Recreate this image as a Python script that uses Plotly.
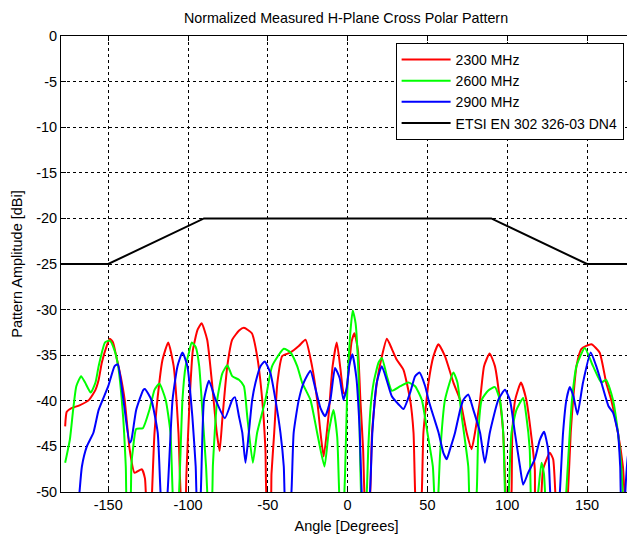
import plotly.graph_objects as go

# ---------------- data ----------------
red_angle = [-177, -176, -173, -168, -162, -158, -156, -154, -151, -149, -147, -145, -142, -139.7,
             -136.6, -133.5, -129, -127, -126, -124, -123, -121, -118, -116, -112.4, -109, -106,
             -104, -102, -101, -99, -97, -94, -91.5, -88, -85, -82, -80.2, -78.5, -75.4, -72.3,
             -68, -65, -60, -56.7, -53.5, -51.5, -50.2, -48.5, -47.7, -46, -44, -41, -35.8, -30.6,
             -26.4, -22.3, -19.1, -17, -15, -12, -9.4, -6.8, -4.5, -2.6, -1.2, 1, 2.5, 4.3, 6.5, 8,
             9.7, 11.1, 13, 14.2, 15.3, 18.3, 21.5, 24.6, 27.7, 30.8, 35, 39.2, 41.3, 42.9, 45,
             46.5, 47.5, 50.7, 53.8, 56.9, 61, 66.3, 70.5, 74.6, 77.7, 79.8, 83, 85.5, 89, 92.3,
             95.4, 97.5, 99.6, 101, 102.7, 103.2, 105, 108.6, 112, 115.2, 117.3, 117.7, 120, 121.5,
             122.5, 126.7, 128.8, 130.8, 134, 137, 138.1, 139.8, 141.3, 143.4, 146.5, 152.7, 157.9,
             162, 165.2, 169.4, 172.5, 174.6, 176, 177.5]
red_val = [-42.8, -41.2, -40.8, -40.5, -39.9, -38.8, -37.7, -35.8, -34.0, -33.2, -33.6, -35.1, -37.5, -39.9,
           -45.3, -47.9, -47.5, -48.5, -52, -55, -52, -43.5, -38, -35.5, -33.6, -36.2, -43.5,
           -52, -53, -48, -39.9, -34.5, -32.2, -31.5, -33.3, -38, -43.5, -45.5, -42, -36.2, -33.3,
           -32.3, -32, -32.6, -35.1, -39.9, -45.3, -52, -52, -48, -43.5, -38, -35.1, -34.7, -34,
           -33.3, -36.2, -39.9, -43.5, -46.1, -41.7, -36.2, -33.6, -36.5, -39.1, -39.3, -36, -33.5, -32.6, -34.5, -39.9,
           -45.3, -52, -53, -50, -43.5, -38, -35.1, -33.2, -34.3, -35.5, -36.6, -39.9, -43.5, -52, -53,
           -50, -43.5, -38, -35.1, -33.8, -35.1, -38, -39.9, -43.5, -45.3, -43.5, -39.9, -36.2, -34.8, -36.2,
           -39.9, -43.5, -52, -53, -50, -43.5, -39.9, -38, -39.9, -44, -47.5, -52, -53, -50,
           -47.5, -45.7, -46.4, -52, -55, -52, -50, -43.5, -39.9, -36.2, -34.3, -33.8, -34.7,
           -38, -39.9, -43.5, -47.2, -52, -52, -50]

green_angle = [-177, -174, -172, -170, -167, -164.5, -161, -158, -156, -152, -149, -146, -143.8, -140.7,
               -139, -138, -136.5, -135.5, -134.5, -132.5, -128.3, -124.2, -121, -118, -114, -111,
               -109, -107, -105.6, -103.5, -101.5, -99.4, -97.7, -95.2, -93, -90.8, -88.7, -86.9,
               -85.5, -84.4, -81.7, -78.5, -75.4, -72.3, -68.1, -65, -62.9, -59.4, -56.7, -51.5,
               -47.3, -40, -35.8, -31.6, -28.5, -23.3, -19.1, -14.5, -11.9, -8.9, -6.5, -4.7, -3,
               -1.6, -0.4, 1.5, 3.2, 5, 6.8, 8.9, 10.5, 12, 13, 14.5, 16.3, 19.4, 21.5, 24.6, 27.7,
               33, 38.1, 42.3, 46.5, 50, 53.4, 54.8, 56, 56.9, 57.9, 61, 66.3, 68.8, 71.5, 75.6,
               76.7, 79, 80.9, 81.9, 84, 88, 92.3, 95.4, 97.5, 99, 100, 101, 102.7, 105.8, 110, 112,
               114.1, 115.2, 117, 119.4, 121.5, 123, 124.6, 130, 136, 137, 139.2, 140.6, 143.4,
               148.6, 153.8, 159, 162, 166.3, 169.4, 171.5, 173.6, 176]
green_val = [-46.8, -44.2, -41, -38.4, -37.3, -38, -39.1, -38, -36.2, -33.6, -33.4, -34.5, -36.2, -41.7,
             -47.2, -52, -52, -47, -45.3, -43.1, -43, -41, -38.8, -38.1, -39.9, -43.5,
             -52, -53, -50, -39.9, -36.2, -34.7, -33.6, -34.1, -36.2, -41.7, -47.2, -52,
             -52, -47, -39.9, -37, -36.1, -37.3, -37.7, -38.4, -41.7, -46.8, -43.5, -39.9,
             -36.2, -34.3, -34.7, -36.2, -38, -39.9, -43.5, -47.2, -43.5, -41, -44, -52, -53,
             -48, -39.9, -33, -30.1, -31.5, -37, -52, -53, -50, -45, -40.5, -38, -35.8, -35.3, -37.3, -38.9,
             -38.4, -38, -38.4, -39.9, -43.5, -47.2, -52, -53, -50, -46, -39.9, -36.9, -38, -41.7, -47.2,
             -52, -53, -50, -43.5, -39.9, -38.9, -38.5, -39.9, -43.5, -52, -53, -50, -43.5, -41, -39.7, -41.7,
             -45.3, -52, -53, -50, -46.8, -48, -52, -55, -52, -50, -43.5, -39.9, -36.2,
             -34.2, -36.2, -38, -37.7, -39.9, -43.5, -47.2, -52, -52]

blue_angle = [-169, -168, -166.5, -163.4, -159.3, -156, -150, -146, -144, -140.5, -136.6, -135.5, -132.5,
              -128, -127, -123, -119, -116.5, -114.5, -112.8, -109.7, -106.6, -103.5, -100.4, -97.3,
              -95.2, -94, -93, -92, -90, -86.9, -82.7, -76.9, -72.3, -70.6, -68.1, -66, -64, -61.9,
              -59.8, -57.7, -54.6, -51.9, -48.3, -45.2, -42.1, -40, -39, -37, -35.2, -33.8, -30.6,
              -27.5, -23.3, -20.4, -17, -14.1, -10.8, -7.9, -5, -2.6, -0.5, 1.2, 3, 5.5, 7.5, 9.5,
              11.5, 14, 15.5, 18.3, 21.4, 24.6, 27.7, 32, 35, 39.2, 42.3, 45, 48.6, 50.7, 53.8, 57,
              60, 62.1, 64.2, 67.3, 70.5, 72.5, 75.6, 78.8, 83, 86, 89.1, 94.4, 98.6, 101.7, 104.8,
              108, 110, 113.1, 117.3, 120.4, 123.1, 125.6, 127.7, 130, 132, 133, 135, 137.1, 139.2,
              141.5, 144, 147.5, 152.3, 155.8, 159, 163.5, 166.3, 169.4, 170.8, 171.9, 173.5, 174,
              176, 177.3]
blue_val = [-52, -50, -47.2, -45, -43.5, -41, -38.4, -36.2, -36, -39.9, -44.6, -44.3, -41,
            -38.8, -38.7, -39.9, -43.5, -52, -53, -50, -39.9, -36.2, -34.7, -36.2, -41.7,
            -47.2, -52, -52, -50, -39.9, -37.8, -39.9, -41.9, -39.9, -39.6, -41.7, -43.5, -46.8, -43.5,
            -39.9, -38, -36.2, -35.7, -37, -39.9, -43.5, -47.2, -52, -53, -50, -43.5, -39.9,
            -38, -36.7, -38.5, -40.8, -41.7, -39.9, -36.4, -37.5, -39.9, -38.5, -36, -34.9, -37.5, -43, -52,
            -53, -50, -43.5, -38, -36.2, -37.8, -39.5, -40.4, -40.9, -39.1, -37.3, -36.9, -38.4, -39.9, -41.7, -43.5,
            -45.7, -46.4, -45.3, -43.5, -41, -39.9, -39.3, -41, -43.5, -46.8, -43.5, -39.9, -38.8, -39.9, -43.5,
            -47.2, -49.2, -47.9, -46.4, -44.3, -43.4, -45.3, -52, -53, -52, -50, -43.5, -39.9, -38.5,
            -39.5, -41.5, -38, -34.7, -36.2, -38, -40.6, -41.3, -43.5, -47.2, -52, -52, -50,
            -45.7, -45.6]

mask_angle = [-180, -150, -90, 90, 150, 180]
mask_val = [-25, -25, -20, -20, -25, -25]

x_ticks = [-150, -100, -50, 0, 50, 100, 150]
x_tick_text = ["-150", "-100", "-50", "0", "50", "100", "150"]
y_ticks = [-50, -45, -40, -35, -30, -25, -20, -15, -10, -5, 0]
y_tick_text = ["-50", "-45", "-40", "-35", "-30", "-25", "-20", "-15", "-10", "-5", "0"]

# ---------------- figure ----------------
fig = go.Figure()
series = [
    ("2300 MHz", red_angle, red_val, "#ff0000", True),
    ("2600 MHz", green_angle, green_val, "#00ff00", True),
    ("2900 MHz", blue_angle, blue_val, "#0000ff", True),
    ("ETSI EN 302 326-03 DN4", mask_angle, mask_val, "#000000", False),
]
for name, xs, ys, col, smooth in series:
    line = dict(color=col, width=2)
    if smooth:
        line.update(shape="spline", smoothing=0.5)
    fig.add_trace(go.Scatter(x=xs, y=ys, mode="lines", name=name, line=line))

font = "Liberation Sans, Arial, sans-serif"
# the page body has an 8px default margin, so the figure is offset by 8px
fig.update_layout(
    width=635, height=537,
    paper_bgcolor="white", plot_bgcolor="white",
    margin=dict(l=53, r=11, t=28, b=53, autoexpand=False),
    font=dict(family=font, size=14.5, color="black"),
    title=dict(text="Normalized Measured H-Plane Cross Polar Pattern",
               x=(346 - 8) / 635, xanchor="center", y=1 - 10 / 537, yanchor="middle",
               yref="container", font=dict(size=14.3, color="black")),
    showlegend=True,
    legend=dict(x=0.586, xanchor="left", y=0.985, yanchor="top",
                bgcolor="white", bordercolor="black", borderwidth=1,
                font=dict(size=14), tracegroupgap=0, itemwidth=49),
    xaxis=dict(range=[-179.6, 178.2], tickvals=x_ticks, ticktext=x_tick_text, showgrid=True,
               gridcolor="black", griddash="3px,3px", gridwidth=1,
               zeroline=False, showline=True, linecolor="black", linewidth=1,
               mirror="ticks", ticks="inside", ticklen=5, tickcolor="black", automargin=False,
               title=dict(text="Angle [Degrees]", standoff=8, font=dict(size=14.5))),
    yaxis=dict(range=[-50, 0], tickvals=y_ticks, ticktext=y_tick_text, showgrid=True,
               gridcolor="black", griddash="3px,3px", gridwidth=1,
               zeroline=False, showline=True, linecolor="black", linewidth=1,
               mirror="ticks", ticks="inside", ticklen=5, tickcolor="black", automargin=False,
               title=dict(text="Pattern Amplitude [dBi]", standoff=10, font=dict(size=14.5))),
)

fig.write_html("out.html")
